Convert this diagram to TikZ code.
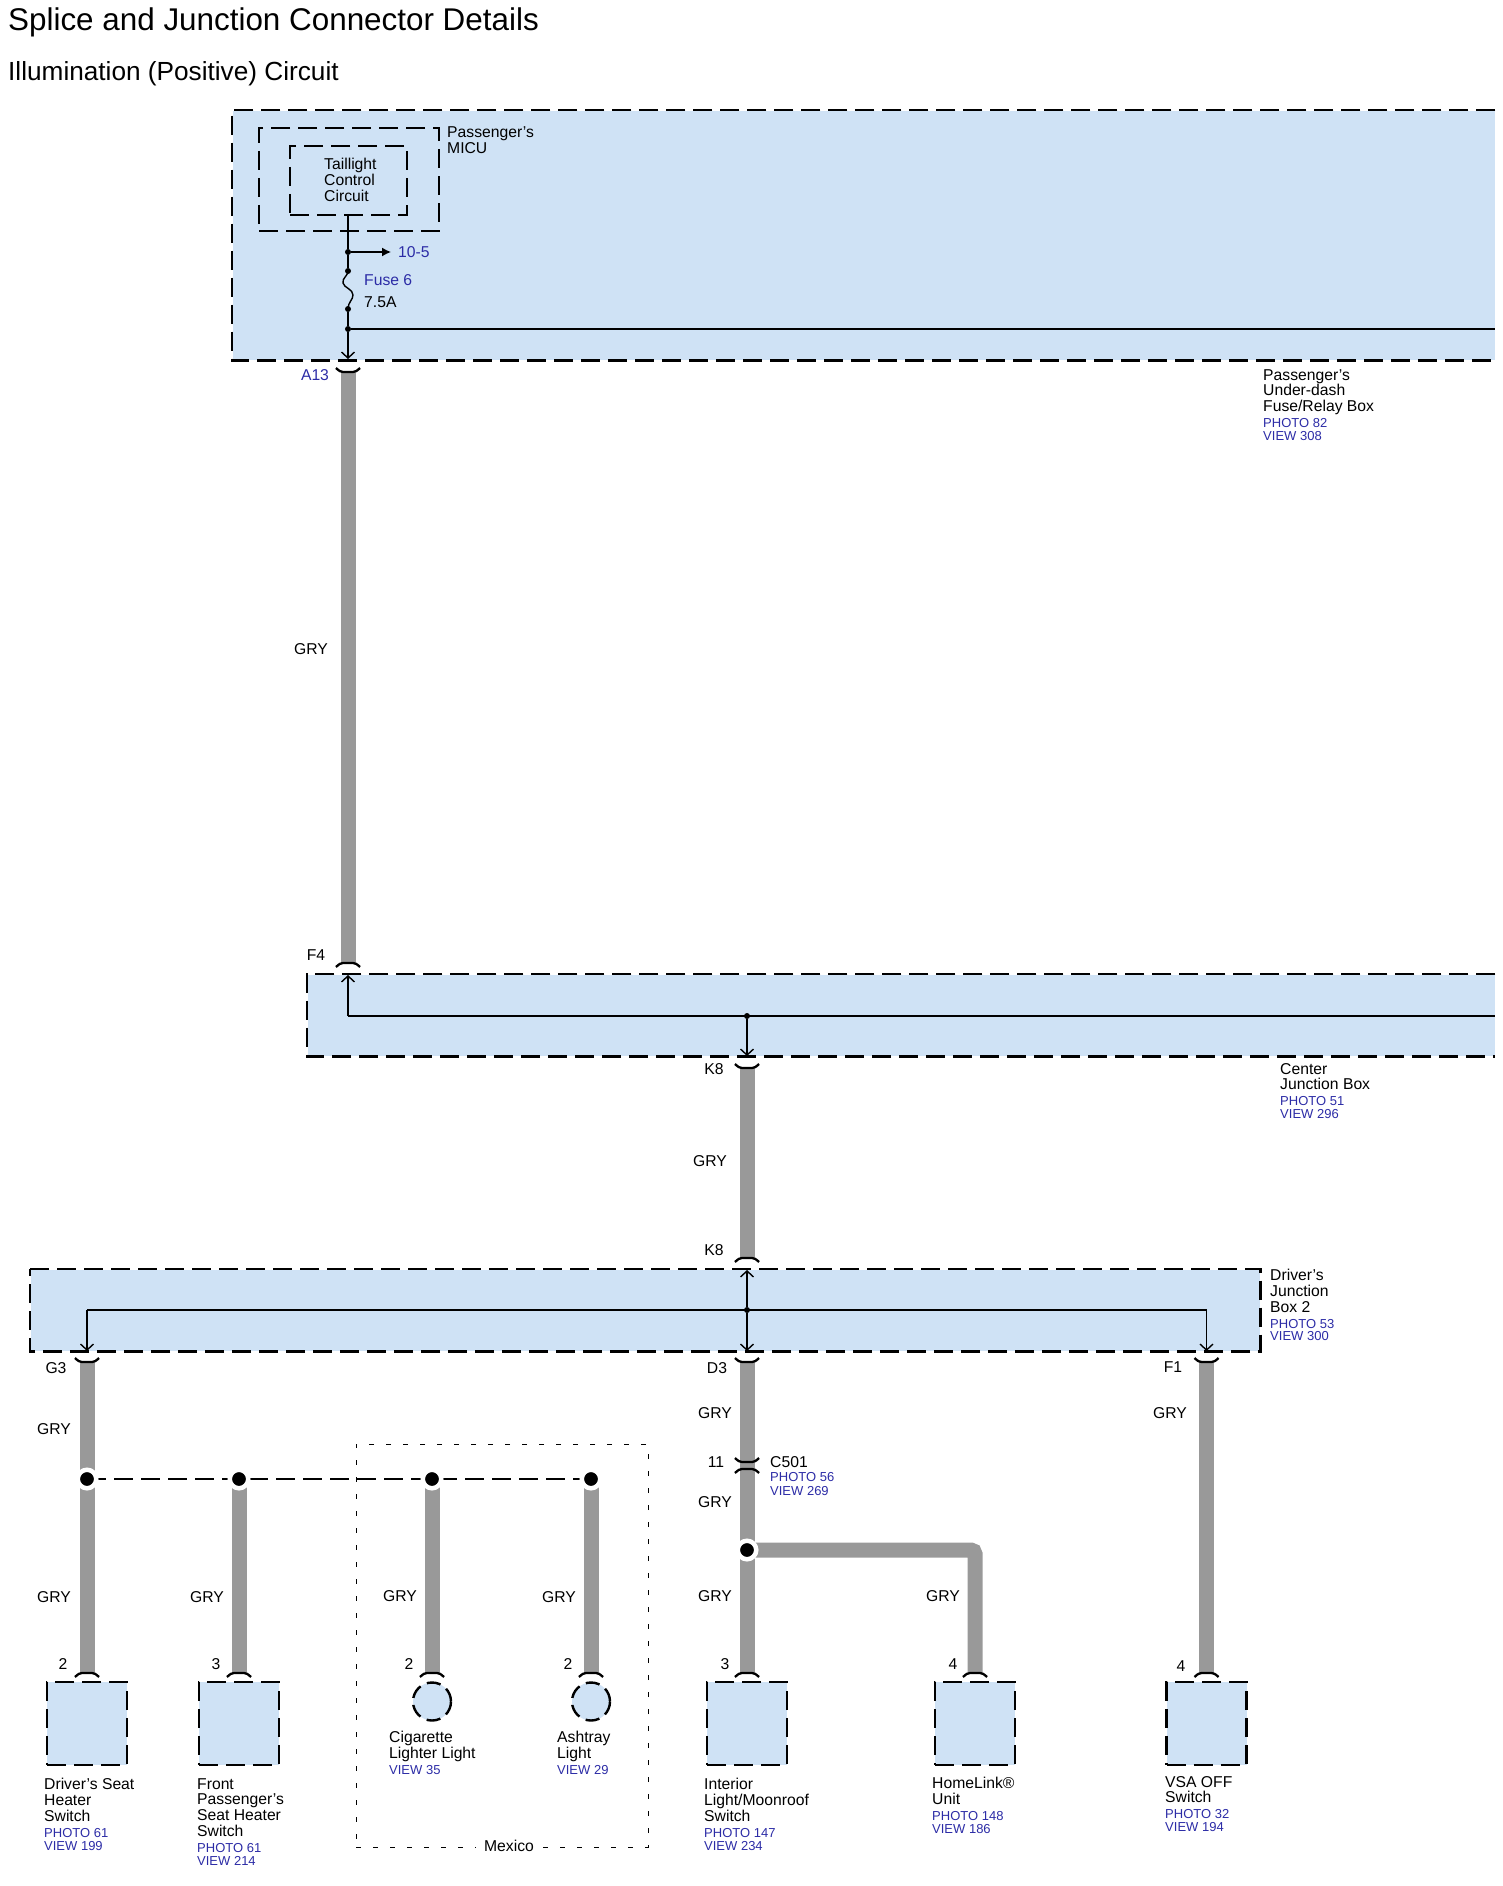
\documentclass[tikz,border=0pt]{standalone}
\usepackage{fontspec}
\setmainfont{Liberation Sans}
\usepackage{xcolor}
\usetikzlibrary{arrows,arrows.meta,positioning}
\definecolor{boxblue}{HTML}{CFE2F5}
\definecolor{refblue}{HTML}{2C2CA6}
\definecolor{wiregray}{HTML}{999999}
\newcommand{\refline}[1]{{\color{refblue}\fontsize{13}{12}\selectfont #1}}
\newcommand{\viewlines}[2]{\\[0.2pt]\refline{#1}\\[-3pt]\refline{#2}}

\begin{document}
\begin{tikzpicture}[
    x=1pt, y=-1pt,
    >={Straight Barb[length=6pt,width=13pt]},
    font=\fontsize{15.7}{15.8}\selectfont,
    wire/.style={
		draw=wiregray,
		line width=15pt
	},
    thinwire/.style={
		draw=black,
		line width=1.4pt
	},
    looseline/.style={
		draw=black,
		line width=1.4pt,
		dash pattern=on 19pt off 8pt
	},
    boxline/.style={
		draw=black,
		line width=2.4pt,
		dash pattern=on 19pt off 8pt,
		preaction={draw=white, solid}
	},
    panel/.style={
		rectangle,
		fill=boxblue,
		anchor=north west,
		inner sep=0pt
	},
    comp/.style={
		rectangle,
		boxline,
		fill=boxblue,
		minimum width=80pt,
		minimum height=83pt,
		inner sep=0pt
	},
    lamp/.style={
		circle,
		draw=black,
		line width=2.4pt,
		dash pattern=on 14pt off 7pt,
		preaction={draw=white, solid},
		fill=boxblue,
		minimum size=38pt,
		inner sep=0pt
	},
    module/.style={
		rectangle,
		boxline,
		preaction={draw=boxblue, solid},
		inner sep=0pt
	},
    fence/.style={
		rectangle,
		draw=black,
		line width=1pt,
		dash pattern=on 5pt off 12pt,
		minimum width=292pt,
		minimum height=403pt,
		inner sep=0pt
	},
    tap/.style={
		circle,
		fill=black,
		minimum size=6pt,
		inner sep=0pt
	},
    splice/.style={
		circle,
		fill=black,
		draw=white,
		line width=4.5pt,
		minimum size=18.5pt,
		inner sep=0pt
	},
    caption/.style={
		anchor=north west,
		align=left,
		inner sep=0pt
	},
    wirelab/.style={
		inner sep=0pt
	},
    pinline/.style={
		draw=black,
		line width=2.3pt
	},
    pinbelow/.pic={
		\draw[pinline] (-12,-4) .. controls (-9,-1) and (-7,0) .. (-5,0) -- (5,0) .. controls (7,0) and (9,-1) .. (12,-4);
	},
    pinabove/.pic={
		\draw[pinline] (-12,4) .. controls (-9,1) and (-7,0) .. (-5,0) -- (5,0) .. controls (7,0) and (9,1) .. (12,4);
	}
  ]
  \useasboundingbox (0,0) rectangle (1502,1886);

  \node [anchor=base west, inner sep=0pt, font=\fontsize{31.4}{32}\selectfont] (title) at (8,30.5) {Splice and Junction Connector Details};
  \node [anchor=base west, inner sep=0pt, font=\fontsize{26.2}{28}\selectfont] (subtitle) at (8,80.5) {Illumination (Positive) Circuit};

  % the three large boxes, open on the right
  \node [panel, minimum width=1263pt, minimum height=250pt] (fusebox) at (232,110) {};
  \node [panel, minimum width=1188pt, minimum height=82pt] (centerbox) at (307,974) {};
  \node [panel, minimum width=1230pt, minimum height=82pt] (driverbox) at (30,1269) {};

  \draw [boxline] (fusebox.north east) -- (fusebox.north west) -- (fusebox.south west) -- (fusebox.south east);
  \draw [boxline] (centerbox.north east) -- (centerbox.north west) -- (centerbox.south west) -- (centerbox.south east);
  \draw [boxline] (driverbox.north west) -- (driverbox.north east) -- (driverbox.south east) -- (driverbox.south west) -- cycle;

  \node [module, minimum width=180pt, minimum height=103pt] (micu) at (349,179.5) {};
  \node [module, minimum width=117pt, minimum height=69pt] (taillight) at (348.5,180.5) {};

  \node [fence] (mexico) at (502,1645.5) {};

  % end points of the wires
  \coordinate (tap105) at (348,252);
  \coordinate (arrow105) at (391,252);
  \coordinate (fuseTop) at (348,271);
  \coordinate (fuseBot) at (348,309);
  \coordinate (tapBus) at (348,329);
  \coordinate (busEast) at (1495,329);
  \coordinate (tipA13) at (348,359);
  \coordinate (pinA13) at (348,372);
  \coordinate (pinF4) at (348,963);
  \coordinate (tipF4) at (348,975);
  \coordinate (cornerF4) at (348,1016);
  \coordinate (centerBus) at (1495,1016);
  \coordinate (tapK8) at (747,1016);
  \coordinate (tipK8) at (747,1056);
  \coordinate (pinK8a) at (747,1068);
  \coordinate (pinK8b) at (747,1258);
  \coordinate (tipK8b) at (747,1270);
  \coordinate (tapD3) at (747,1310);
  \coordinate (tipD3) at (747,1351);
  \coordinate (pinD3) at (747,1362);
  \coordinate (cornerG3) at (87,1310);
  \coordinate (tipG3) at (87,1351);
  \coordinate (pinG3) at (87,1362);
  \coordinate (cornerF1) at (1206.5,1310);
  \coordinate (tipF1) at (1206.5,1351);
  \coordinate (pinF1) at (1206.5,1362);
  \coordinate (jDriver) at (87,1479);
  \coordinate (jFront) at (239,1479);
  \coordinate (jLighter) at (432,1479);
  \coordinate (jAshtray) at (591,1479);
  \coordinate (jRoof) at (747,1550);
  \coordinate (pinC501a) at (747,1462);
  \coordinate (pinC501b) at (747,1469);
  \coordinate (pinDriver) at (87,1673);
  \coordinate (pinFront) at (239,1673);
  \coordinate (pinLighter) at (432,1673);
  \coordinate (pinAshtray) at (591,1673);
  \coordinate (pinRoof) at (747,1673);
  \coordinate (pinHome) at (975,1673);
  \coordinate (pinVsa) at (1206.5,1673);

  % harness
  \draw [wire] (pinA13) -- (pinF4);
  \draw [wire] (pinK8a) -- (pinK8b);
  \draw [wire] (pinG3) -- (pinDriver);
  \draw [wire] (jFront) -- (pinFront);
  \draw [wire] (jLighter) -- (pinLighter);
  \draw [wire] (jAshtray) -- (pinAshtray);
  \draw [wire] (pinD3) -- (pinRoof);
  \draw [wire, rounded corners=4pt] (jRoof) -| (pinHome);
  \draw [wire] (pinF1) -- (pinVsa);
  \draw [looseline] (jDriver) -- (jAshtray);

  \node [splice] (spliceDriver) at (jDriver) {};
  \node [splice] (spliceFront) at (jFront) {};
  \node [splice] (spliceLighter) at (jLighter) {};
  \node [splice] (spliceAshtray) at (jAshtray) {};
  \node [splice] (spliceRoof) at (jRoof) {};

  \node [tap] (dot105) at (tap105) {};
  \node [tap] (dotFuseTop) at (fuseTop) {};
  \node [tap] (dotFuseBot) at (fuseBot) {};
  \node [tap] (dotBus) at (tapBus) {};
  \node [tap] (dotK8) at (tapK8) {};
  \node [tap] (dotD3) at (tapD3) {};

  % thin circuit inside the boxes
  \draw [thinwire] (taillight.south -| dot105) -- (dot105);
  \draw [thinwire] (dot105) -- (dotFuseTop);
  \draw [thinwire, -{Latex[length=9pt,width=9pt]}] (dot105) -- (arrow105);
  \draw [thinwire] (fuseTop) .. controls (348,276) and (342,278) .. (343,283) .. controls (344,288) and (353,289) .. (353,295) .. controls (353,300) and (348,302) .. (fuseBot);
  \draw [thinwire] (dotFuseBot) -- (dotBus);
  \draw [thinwire, ->] (dotBus) -- (tipA13);
  \draw [thinwire] (dotBus) -- (busEast);
  \draw [thinwire, ->] (cornerF4) -- (tipF4);
  \draw [thinwire] (cornerF4) -- (centerBus);
  \draw [thinwire, ->] (dotK8) -- (tipK8);
  \draw [thinwire, ->] (dotD3) -- (tipK8b);
  \draw [thinwire, ->] (dotD3) -- (tipD3);
  \draw [thinwire, ->] (cornerG3) -- (tipG3);
  \draw [thinwire, ->] (cornerF1) -- (tipF1);
  \draw [thinwire] (cornerG3) -- (cornerF1);

  % connector halves
  \pic at (pinA13) {pinbelow};
  \pic at (pinF4) {pinabove};
  \pic at (pinK8a) {pinbelow};
  \pic at (pinK8b) {pinabove};
  \pic at (pinG3) {pinbelow};
  \pic at (pinD3) {pinbelow};
  \pic at (pinF1) {pinbelow};
  \pic at (pinC501a) {pinbelow};
  \pic at (pinC501b) {pinabove};
  \pic at (pinDriver) {pinabove};
  \pic at (pinFront) {pinabove};
  \pic at (pinLighter) {pinabove};
  \pic at (pinAshtray) {pinabove};
  \pic at (pinRoof) {pinabove};
  \pic at (pinHome) {pinabove};
  \pic at (pinVsa) {pinabove};

  % components
  \node [comp] (seatDriver) at (87,1723.5) {};
  \node [comp] (seatFront) at (239,1723.5) {};
  \node [lamp] (lampLighter) at (432,1701.5) {};
  \node [lamp] (lampAshtray) at (591,1701.5) {};
  \node [comp] (roofSwitch) at (747,1723.5) {};
  \node [comp] (homeLink) at (975,1723.5) {};
  \node [comp] (vsaSwitch) at (1206.5,1723.5) {};

  % names
  \node [caption] (micuLab) at (447,127) {Passenger's\\MICU};
  \node [caption] (taillightLab) at (324,158) {Taillight\\Control\\Circuit};
  \node [caption] (fuseboxLab) at (1263,369) {Passenger's\\Under-dash\\Fuse/Relay Box\viewlines{PHOTO 82}{VIEW 308}};
  \node [caption] (centerLab) at (1280,1063) {Center\\Junction Box\viewlines{PHOTO 51}{VIEW 296}};
  \node [caption] (driverLab) at (1270,1269) {Driver's\\Junction\\Box 2\viewlines{PHOTO 53}{VIEW 300}};
  \node [caption] (driverSeatLab) at (44,1778) {Driver's Seat\\Heater\\Switch\viewlines{PHOTO 61}{VIEW 199}};
  \node [caption] (frontSeatLab) at (197,1778) {Front\\Passenger's\\Seat Heater\\Switch\viewlines{PHOTO 61}{VIEW 214}};
  \node [caption] (lighterLab) at (389,1731) {Cigarette\\Lighter Light\\[0.2pt]\refline{VIEW 35}};
  \node [caption] (ashtrayLab) at (557,1731) {Ashtray\\Light\\[0.2pt]\refline{VIEW 29}};
  \node [caption] (roofLab) at (704,1778) {Interior\\Light/Moonroof\\Switch\viewlines{PHOTO 147}{VIEW 234}};
  \node [caption] (homeLab) at (932,1777) {HomeLink®\\Unit\viewlines{PHOTO 148}{VIEW 186}};
  \node [caption] (vsaLab) at (1165,1776) {VSA OFF\\Switch\viewlines{PHOTO 32}{VIEW 194}};
  \node [caption] (c501Lab) at (770,1456) {C501\\[-1pt]\refline{PHOTO 56}\\[-2pt]\refline{VIEW 269}};
  \node [fill=white, inner sep=8pt] (mexicoLab) at (509,1846) {Mexico};

  % blue terminals
  \node [anchor=west, inner sep=0pt] (lab105) at (398,252) {\color{refblue}10-5};
  \node [anchor=west, inner sep=0pt] (labFuse) at (364,280) {\color{refblue}Fuse 6};
  \node [anchor=west, inner sep=0pt] (labAmp) at (364,302) {7.5A};
  \node [wirelab] (labA13) at (315,375) {\color{refblue}A13};

  % terminals and colours
  \node [wirelab] (labF4) at (316,955) {F4};
  \node [wirelab] (labK8a) at (714,1069) {K8};
  \node [wirelab] (labK8b) at (714,1250) {K8};
  \node [wirelab] (labG3) at (56,1368) {G3};
  \node [wirelab] (labD3) at (717,1368) {D3};
  \node [wirelab] (labF1) at (1173,1367) {F1};
  \node [wirelab] (lab11) at (716,1462) {11};
  \node [wirelab] (pinLabDriver) at (63,1664) {2};
  \node [wirelab] (pinLabFront) at (216,1664) {3};
  \node [wirelab] (pinLabLighter) at (409,1664) {2};
  \node [wirelab] (pinLabAshtray) at (568,1664) {2};
  \node [wirelab] (pinLabRoof) at (725,1664) {3};
  \node [wirelab] (pinLabHome) at (953,1664) {4};
  \node [wirelab] (pinLabVsa) at (1181,1666) {4};

  \node [wirelab] (gryMain) at (311,649) {GRY};
  \node [wirelab] (gryK8) at (710,1161) {GRY};
  \node [wirelab] (gryG3) at (54,1429) {GRY};
  \node [wirelab] (gryD3) at (715,1413) {GRY};
  \node [wirelab] (gryF1) at (1170,1413) {GRY};
  \node [wirelab] (gryC501) at (715,1502) {GRY};
  \node [wirelab] (gryDriver) at (54,1597) {GRY};
  \node [wirelab] (gryFront) at (207,1597) {GRY};
  \node [wirelab] (gryLighter) at (400,1596) {GRY};
  \node [wirelab] (gryAshtray) at (559,1597) {GRY};
  \node [wirelab] (gryRoof) at (715,1596) {GRY};
  \node [wirelab] (gryHome) at (943,1596) {GRY};

\end{tikzpicture}
\end{document}
